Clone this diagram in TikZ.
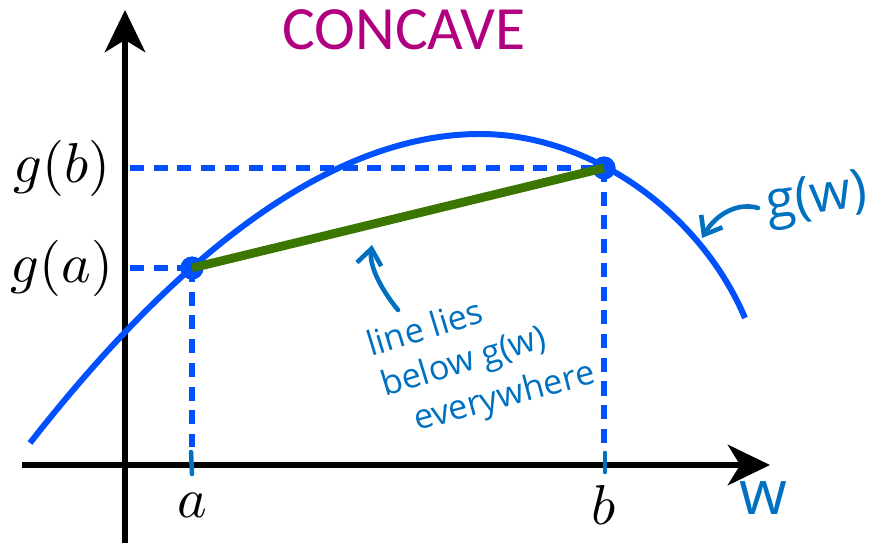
\documentclass[tikz,border=0pt]{standalone}
\usepackage{fontspec}
\usepackage{tikz}
\usetikzlibrary{arrows.meta}
\newfontfamily\titlefont{Carlito}
\newfontfamily\inkfont{Open Sans}
\definecolor{curveblue}{RGB}{0,80,255}
\definecolor{chordgreen}{RGB}{58,118,0}
\definecolor{inkblue}{RGB}{0,112,192}
\definecolor{titlemagenta}{RGB}{176,0,128}

\begin{document}
\begin{tikzpicture}[
  x=0.02cm, y=-0.02cm,
  axis/.style={line width=3.4pt, -{Stealth[length=24pt, width=23pt, inset=7pt]}},
  guide/.style={curveblue, line width=3.4pt, dash pattern=on 8pt off 5.5pt},
  pt/.style={circle, fill=curveblue, minimum size=0.46cm, inner sep=0pt},
  chord/.style={chordgreen, line width=5pt},
  ink/.style={inkblue, line width=2.6pt, line cap=round},
  inkarrow/.style={ink, -{Straight Barb[length=9pt, width=14pt]}},
  mlabel/.style={scale=3.2},
  inktext/.style={text=inkblue, inner sep=0pt},
  noteline/.style={inktext, anchor=base west, rotate=17, font=\inkfont\fontsize{19.5}{24}\selectfont}
]
\useasboundingbox (0,0) rectangle (874,543);

% axes
\coordinate (ybot) at (125,543);
\coordinate (ytop) at (125,10);
\coordinate (xleft) at (22,465);
\coordinate (xright) at (770,465);
\draw[axis] (ybot) -- (ytop);
\draw[axis] (xleft) -- (xright);

% the two points on g
\node[pt] (a) at (192,268) {};
\node[pt] (b) at (604,168) {};

% guides to the axes
\coordinate (ga) at (130,268);
\coordinate (gb) at (130,168);
\coordinate (fa) at (192,447);
\coordinate (fb) at (604,449);
\draw[guide] (ga) -- (a.center);
\draw[guide] (gb) -- (b.center);
\draw[guide] (a.center) -- (fa);
\draw[guide] (b.center) -- (fb);
\draw[ink] (191,452) -- (192,474);
\draw[ink] (605,453) -- (605,472);

% g(w), peak at (480,134)
\coordinate (gstart) at (30,443);
\coordinate (gpeak) at (480,134);
\coordinate (gend) at (745,318);
\draw[curveblue, line width=3.4pt] (gstart) .. controls (220,200) and (370,134) .. (gpeak)
  .. controls (590,134) and (700,212) .. (gend);
\node[pt] at (a) {};
\node[pt] at (b) {};
\draw[chord] (a.center) -- (b.center);

% labels
\node[mlabel] (lgb) at (62,168) {$g(b)$};
\node[mlabel] (lga) at (62,268) {$g(a)$};
\node[mlabel] (la) at (192,505) {$a$};
\node[mlabel] (lb) at (604,505) {$b$};
\node[text=titlemagenta, font=\titlefont\fontsize{35}{40}\selectfont] (title) at (404,30) {CONCAVE};

% hand notes
\node[inktext, font=\inkfont\fontsize{35}{40}\selectfont] (lw) at (763,498) {w};
\node[inktext, rotate=8, font=\inkfont\fontsize{30}{34}\selectfont] (lg) at (817,200) {g(w)};
\node[noteline] (note1) at (371,357) {line lies};
\node[noteline] (note2) at (385,397) {below g(w)};
\node[noteline, rotate=-2] (note3) at (417,431) {everywhere};
\coordinate (ntail) at (398,310);
\coordinate (ntip) at (372,245);
\draw[inkarrow] (ntail) .. controls (380,288) and (369,265) .. (ntip);
\coordinate (gtail) at (758,208);
\coordinate (gtip) at (702,238);
\draw[inkarrow] (gtail) .. controls (738,202) and (716,214) .. (gtip);
\end{tikzpicture}
\end{document}
